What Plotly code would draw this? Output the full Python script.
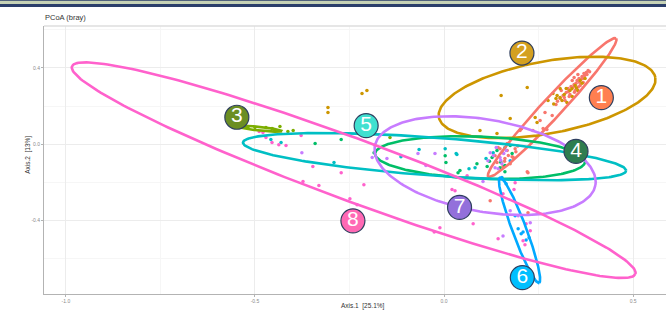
import numpy as np
import plotly.graph_objects as go

# ---------------- data ----------------
groups = ["1", "2", "3", "4", "5", "6", "7", "8"]
point_colors = ["#F8766D", "#CD9600", "#7CAE00", "#00BE67", "#00BFC4", "#00A9FF", "#C77CFF", "#FF61CC"]
label_colors = ["#FF7F50", "#D4A020", "#6B8E23", "#2E7D4F", "#40E0D0", "#00BFFF", "#9370DB", "#FF69B4"]

g1_x = [0.296, 0.307, 0.315, 0.323, 0.328, 0.336, 0.344, 0.352, 0.357, 0.365, 0.370, 0.376, 0.333, 0.347, 0.360,
        0.320, 0.339, 0.354, 0.368, 0.310, 0.381, 0.344, 0.267, 0.286, 0.254, 0.262, 0.272, 0.235, 0.201, 0.188,
        0.167, 0.148, 0.183, 0.140, 0.222, 0.143, 0.167, 0.180, 0.205, 0.122, 0.222, 0.220, 0.161, 0.135, 0.175, 0.156,
        0.318, 0.329, 0.341, 0.349, 0.362, 0.372, 0.355, 0.331, 0.300, 0.345, 0.367, 0.378, 0.385, 0.358,
        0.155, 0.170, 0.190, 0.160, 0.195]
g1_y = [0.208, 0.239, 0.255, 0.271, 0.292, 0.303, 0.313, 0.334, 0.345, 0.355, 0.371, 0.376, 0.261, 0.282, 0.308,
        0.229, 0.334, 0.366, 0.324, 0.282, 0.387, 0.350, 0.166, 0.150, 0.124, 0.082, 0.076, 0.071, 0.071, -0.024,
        -0.034, -0.024, -0.071, -0.097, -0.150, -0.018, 0.003, -0.066, 0.080, -0.297, -0.361, -0.145, -0.076, -0.061, -0.103, -0.118,
        0.245, 0.276, 0.298, 0.319, 0.340, 0.360, 0.300, 0.250, 0.225, 0.272, 0.345, 0.365, 0.380, 0.325,
        -0.045, -0.060, -0.040, -0.090, -0.010]
g2_x = [0.299, 0.312, 0.325, 0.288, 0.333, 0.347, 0.360, 0.307, 0.373, 0.339, 0.323, 0.354, 0.241, 0.246, 0.151,
        0.220, 0.175, 0.095, 0.140, -0.217, -0.204, -0.307, -0.307, 0.307, 0.275,
        0.318, 0.338, 0.350, 0.365, 0.296, 0.290]
g2_y = [0.255, 0.229, 0.218, 0.266, 0.282, 0.308, 0.334, 0.292, 0.345, 0.250, 0.292, 0.282, 0.139, 0.113, 0.255,
        0.297, 0.134, 0.071, 0.055, 0.266, 0.282, 0.192, 0.166, 0.245, 0.229,
        0.260, 0.290, 0.295, 0.320, 0.240, 0.210]
g3_x = [-0.519, -0.471, -0.434, -0.399, -0.413, -0.143, -0.500, -0.455]
g3_y = [0.087, 0.087, 0.092, 0.071, 0.066, 0.034, 0.087, 0.082]
g4_x = [-0.341, -0.272, -0.185, 0.003, 0.005, 0.037, 0.087, 0.114, 0.127, 0.161, 0.180, 0.161, 0.042, 0.148, 0.175, 0.140,
        0.120, 0.150]
g4_y = [0.003, 0.024, -0.045, -0.061, -0.097, -0.150, -0.103, -0.118, -0.071, -0.113, -0.050, -0.145, -0.139, -0.124, -0.008, -0.034,
        -0.090, -0.095]
g5_x = [-0.458, -0.431, -0.291, -0.114, -0.066, 0.003, 0.032, 0.066, 0.082, 0.034, 0.161, 0.130, 0.111]
g5_y = [0.024, 0.008, -0.097, -0.066, -0.029, -0.024, -0.050, -0.129, -0.124, -0.055, -0.018, -0.045, -0.076]
g6_x = [0.209, 0.204, 0.217, 0.225, 0.188, 0.153, 0.164, 0.196, 0.175]
g6_y = [-0.461, -0.471, -0.503, -0.492, -0.376, -0.176, -0.208, -0.445, -0.087]
g7_x = [-0.376, -0.190, -0.151, -0.069, -0.024, -0.048, 0.122, 0.148, 0.153, 0.135, 0.143, 0.103, 0.175, 0.196,
        0.228, 0.156, 0.138, 0.164, 0.116, 0.130, 0.158, 0.150]
g7_y = [-0.045, -0.071, -0.076, -0.050, -0.050, -0.113, -0.045, -0.071, -0.103, -0.124, -0.129, -0.197, -0.350, -0.376,
        -0.413, -0.482, -0.018, -0.034, -0.087, -0.060, -0.050, -0.085]
g8_x = [-0.489, -0.479, -0.471, -0.455, -0.437, -0.418, -0.378, -0.347, -0.272, -0.373, -0.331, -0.212, -0.249, -0.230,
        0.021, -0.026, -0.011, 0.077, 0.143, 0.217, 0.209, 0.214, 0.156, 0.188, 0.029, 0.061, 0.185, 0.228]
g8_y = [0.066, 0.061, 0.034, 0.008, -0.003, -0.008, 0.045, -0.118, -0.150, -0.197, -0.218, -0.213, -0.287, -0.318,
        -0.239, -0.461, -0.439, -0.418, -0.497, -0.418, -0.508, -0.529, -0.261, -0.203, -0.245, -0.166, -0.239, -0.455]

points_x = [g1_x, g2_x, g3_x, g4_x, g5_x, g6_x, g7_x, g8_x]
points_y = [g1_y, g2_y, g3_y, g4_y, g5_y, g6_y, g7_y, g8_y]

# ellipse: centre and two conjugate semi-axis vectors (data units)
ell_cx = [0.286, 0.2725, -0.492, 0.0952, -0.0251, 0.1997, 0.1085, -0.239]
ell_cy = [0.192, 0.245, 0.0816, -0.0711, -0.0658, -0.4526, -0.1132, -0.137]
ell_ux = [0.169, 0.2862, 0.0635, 0.2778, 0.5066, 0.0516, 0.2918, 0.745]
ell_uy = [0.363, 0.105, -0.0132, -0.021, -0.0737, -0.2763, -0.1024, -0.545]
ell_vx = [0.0193, 0.01735, -0.0005, -0.0021, -0.00368, 0.01735, -0.02114, -0.0283]
ell_vy = [-0.0358, -0.1863, -0.0095, -0.1105, -0.0997, 0.01284, -0.2384, -0.153]

# label positions
lab_x = [0.416, 0.206, -0.548, 0.349, -0.206, 0.207, 0.041, -0.241]
lab_y = [0.244, 0.478, 0.141, -0.038, 0.097, -0.701, -0.332, -0.403]

x_ticks = [-1.0, -0.5, 0.0, 0.5]
y_ticks = [-0.4, 0.0, 0.4]

# ---------------- figure ----------------
fig = go.Figure()

for i in range(8):
    fig.add_trace(go.Scatter(x=points_x[i], y=points_y[i], mode="markers",
                             marker=dict(size=3.5, color=point_colors[i]),
                             showlegend=False, hoverinfo="skip"))

t = np.linspace(0, 2 * np.pi, 241)
for i in range(8):
    ex = ell_cx[i] + ell_ux[i] * np.cos(t) + ell_vx[i] * np.sin(t)
    ey = ell_cy[i] + ell_uy[i] * np.cos(t) + ell_vy[i] * np.sin(t)
    fig.add_trace(go.Scatter(x=ex, y=ey, mode="lines",
                             line=dict(color=point_colors[i], width=2.6),
                             showlegend=False, hoverinfo="skip"))

for i in range(8):
    fig.add_trace(go.Scatter(x=[lab_x[i]], y=[lab_y[i]], mode="markers+text",
                             text=[groups[i]], textposition="middle center",
                             textfont=dict(color="white", size=21, family="Liberation Sans"),
                             marker=dict(size=24, color=label_colors[i],
                                         line=dict(color="#2F3F5F", width=1.2)),
                             showlegend=False, hoverinfo="skip"))

axis_common = dict(
    showline=True, linecolor="#b3b3b3", linewidth=1,
    gridcolor="#ececec", gridwidth=1, zeroline=False,
    ticks="outside", ticklen=2, tickcolor="#b3b3b3",
    tickfont=dict(size=5, color="#8a8a8a", family="Liberation Sans"),
)

fig.update_layout(
    width=666, height=315,
    margin=dict(l=44, r=0, t=26, b=21),
    paper_bgcolor="white", plot_bgcolor="white",
    xaxis=dict(range=[-1.058, 0.587], tickvals=x_ticks, ticktext=["-1.0", "-0.5", "0.0", "0.5"],
               minor=dict(showgrid=True, gridcolor="#f6f6f6", dtick=0.25, tick0=0),
               **axis_common),
    yaxis=dict(range=[-0.787, 0.62], tickvals=y_ticks, ticktext=["-0.4", "0.0", "0.4"],
               minor=dict(showgrid=True, gridcolor="#f6f6f6", dtick=0.2, tick0=0),
               **axis_common),
    font=dict(family="Liberation Sans"),
)

# decorative header band
fig.add_shape(type="rect", xref="paper", yref="paper", x0=-0.08, x1=1.01, y0=1.071, y1=1.1,
              fillcolor="#2b3e6a", line_width=0, layer="above")
fig.add_shape(type="rect", xref="paper", yref="paper", x0=-0.08, x1=1.01, y0=1.082, y1=1.094,
              fillcolor="#c6d2b6", line_width=0, layer="above")
# top panel border
fig.add_shape(type="line", xref="paper", yref="paper", x0=0, x1=1, y0=1, y1=1,
              line=dict(color="#dedede", width=1.5))

fig.add_annotation(text="PCoA (bray)", xref="paper", yref="paper", x=-0.001, y=1.032,
                   xanchor="left", yanchor="middle", showarrow=False,
                   font=dict(size=7.5, color="#333333"))
fig.add_annotation(text="Axis.1\u00a0\u00a0[25.1%]", xref="paper", yref="paper", x=0.513, y=-0.045,
                   xanchor="center", yanchor="middle", showarrow=False,
                   font=dict(size=6.5, color="#333333"))
fig.add_annotation(text="Axis.2\u00a0\u00a0[13%]", xref="paper", yref="paper", x=-0.027, y=0.52,
                   xanchor="center", yanchor="middle", showarrow=False, textangle=-90,
                   font=dict(size=6.5, color="#333333"))

fig.write_html("out.html", config={"displayModeBar": False},
               post_script="document.body.style.margin='0';document.body.style.overflow='hidden';")
